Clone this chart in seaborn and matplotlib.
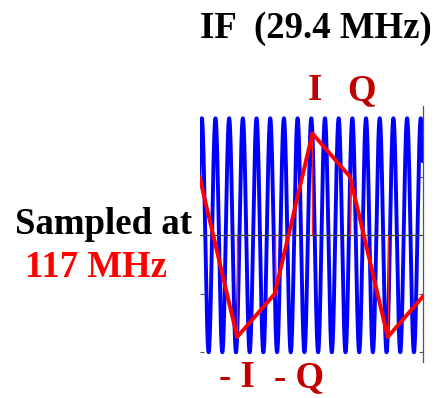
import matplotlib
matplotlib.use("Agg")
import matplotlib.pyplot as plt
import numpy as np
import pandas as pd
import seaborn as sns

# sampled values (red), one per sample period
sample_n = [0, 1, 2, 3, 4, 5, 6]
sample_val = [0.5, -0.87, -0.5, 0.87, 0.5, -0.87, -0.5]

# IF carrier (blue): cycles per sample period and starting phase (deg)
if_cycles_per_sample = 2.75
if_phase_deg = -60
x_end = 5.93

y_ticks = [-1, -0.5, 0.5, 1]

sns.set_style("white")
plt.rcParams['font.family'] = ['Liberation Serif', 'DejaVu Serif']

W, H = 434, 398
fig = plt.figure(figsize=(W / 100, H / 100), dpi=100)
ax = fig.add_axes([199.5 / W, 1 - 362 / H, (422.7 - 199.5) / W, (362 - 106) / H])

t = np.linspace(0, x_end, 4000)
wave = pd.DataFrame({
    "t": t,
    "v": np.cos(2 * np.pi * if_cycles_per_sample * t + np.deg2rad(if_phase_deg)),
})
sns.lineplot(data=wave, x="t", y="v", ax=ax, color="#0000ff", lw=2.8, zorder=1)

ax.axhline(0, color="#444444", lw=0.9, zorder=2)

stems = [(n, v) for n, v in zip(sample_n, sample_val) if 0 < n < x_end]
ax.vlines([s[0] for s in stems], 0, [s[1] for s in stems], color="#ff2020", lw=1.0, zorder=3)

samples = pd.DataFrame({"n": sample_n, "v": sample_val})
sns.lineplot(data=samples, x="n", y="v", ax=ax, color="#ff0000", lw=2.8, zorder=4)

ax.set_xlim(0, x_end)
ax.set_ylim(-1.083, 1.105)
ax.set_xticks([])
ax.set_yticks(y_ticks)
ax.set_yticklabels([])
ax.set_xlabel("")
ax.set_ylabel("")
for side in ["left", "top", "bottom"]:
    ax.spines[side].set_visible(False)
ax.spines["right"].set_color("#555555")
ax.spines["right"].set_linewidth(0.9)
ax.tick_params(axis="y", which="both", right=True, left=True, direction="in",
               length=3, width=0.8, color="#555555")

fs = 26.5
def ftext(x, y, s, color):
    fig.text(x / W, 1 - y / H, s, fontsize=fs, fontweight="bold", color=color,
             ha="left", va="baseline")

ftext(200, 37.5, "IF  (29.4 MHz)", "black")
ftext(308, 100, "I", "#c00000")
ftext(347, 100, "Q", "#c00000")
ftext(219, 387, "- I", "#c00000")
ftext(274, 387, "- Q", "#c00000")
ftext(15, 234, "Sampled at", "black")
ftext(25, 277, "117 MHz", "#ff0000")

fig.savefig("out.png", dpi=100)
